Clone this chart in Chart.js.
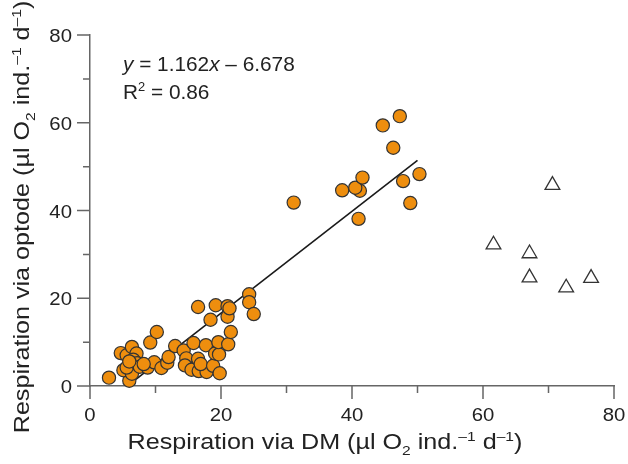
<!DOCTYPE html>
<html>
<head>
<meta charset="utf-8">
<script src="https://cdn.jsdelivr.net/npm/chart.js@4"></script>
<style>
  html, body { margin: 0; background: #fff; }
</style>
</head>
<body>
<canvas id="chart" width="628" height="464"></canvas>
<script>
// Respiration via DM (x) and via optode (y), orange circles
var dmX = [2.9, 6.0, 4.7, 5.6, 6.4, 7.1, 6.6, 5.1, 6.4, 5.6, 7.2, 7.6, 8.8, 9.8, 10.9, 11.8, 12.0, 9.2, 10.2, 13.0, 8.2, 6.0,
           14.3, 15.8, 15.0, 14.7, 14.5, 15.5, 16.5, 16.6, 17.8, 17.7, 16.9, 18.8, 19.1, 19.7, 19.6, 19.8, 21.1, 21.5, 18.4, 21.0,
           16.5, 19.2, 21.0, 21.3, 24.3, 24.3, 25.0,
           31.1, 38.5, 41.2, 40.5, 41.6, 41.0, 44.7, 47.3, 46.3, 47.8, 50.3, 48.9];
var optodeY = [1.9, 1.2, 7.5, 7.0, 8.9, 7.4, 6.0, 3.6, 2.8, 4.2, 5.2, 4.4, 4.2, 5.4, 4.1, 5.3, 6.6, 9.9, 12.3, 9.1, 5.0, 5.6,
               8.1, 9.8, 5.5, 6.3, 4.7, 3.7, 6.2, 3.4, 3.2, 9.3, 5.0, 4.6, 7.4, 7.2, 10.0, 2.9, 9.5, 12.3, 15.1, 15.8,
               18.0, 18.4, 18.2, 17.7, 20.9, 19.1, 16.4,
               41.8, 44.6, 44.5, 45.2, 47.5, 38.1, 59.4, 61.5, 54.3, 46.7, 48.3, 41.7];

// open triangles (excluded from the fit)
var outX = [70.6, 61.6, 67.1, 67.1, 72.7, 76.5];
var outY = [45.8, 32.2, 30.2, 24.7, 22.4, 24.6];

// regression line end points
var fitX = [7, 50];
var fitY = [1.5, 51.4];

var tickValues = [0, 10, 20, 30, 40, 50, 60, 70, 80];

var FONT = '"Liberation Sans", Arial, Helvetica, sans-serif';
var AXIS = '#666';
var TEXT = '#222';

function toPoints(xs, ys) {
    return xs.map(function(x, i) { return { x: x, y: ys[i] }; });
}

// text pieces with italic / sub / sup parts, stretched a little sideways
function drawText(ctx, segs, x, y, size, align, stretch) {
    function setFont(s) {
        var sz = (s.k === 'sub' || s.k === 'sup') ? size * 0.62 : size;
        ctx.font = (s.k === 'i' ? 'italic ' : '') + sz + 'px ' + FONT;
    }
    var total = 0;
    segs.forEach(function(s) { setFont(s); total += ctx.measureText(s.t).width; });
    var start = align === 'center' ? -total / 2 : (align === 'right' ? -total : 0);
    ctx.save();
    ctx.translate(x, y);
    ctx.scale(stretch, 1);
    ctx.textAlign = 'left';
    ctx.textBaseline = 'alphabetic';
    var cx = start;
    segs.forEach(function(s) {
        setFont(s);
        var dy = s.k === 'sub' ? size * 0.28 : (s.k === 'sup' ? -size * 0.38 : 0);
        ctx.fillText(s.t, cx, dy);
        cx += ctx.measureText(s.t).width;
    });
    ctx.restore();
}

var extras = {
    id: 'extras',
    afterDraw: function(chart) {
        var ctx = chart.ctx;
        var xs = chart.scales.x, ys = chart.scales.y;
        ctx.save();
        // tick marks, long at labelled values
        ctx.strokeStyle = AXIS;
        ctx.lineWidth = 1.5;
        tickValues.forEach(function(v) {
            var len = v % 20 === 0 ? 13 : 7;
            var px = xs.getPixelForValue(v);
            var py = ys.getPixelForValue(v);
            ctx.beginPath();
            ctx.moveTo(px, xs.top); ctx.lineTo(px, xs.top + len);
            ctx.moveTo(ys.right, py); ctx.lineTo(ys.right - len, py);
            ctx.stroke();
        });

        ctx.fillStyle = TEXT;
        // tick labels
        xs.ticks.forEach(function(t) {
            if (t.value % 20 !== 0) return;
            drawText(ctx, [{ t: String(t.value) }], xs.getPixelForValue(t.value), 421, 18.5, 'center', 1.1);
        });
        ys.ticks.forEach(function(t) {
            if (t.value % 20 !== 0) return;
            drawText(ctx, [{ t: String(t.value) }], 72, ys.getPixelForValue(t.value) + 7, 18.5, 'right', 1.1);
        });

        // axis titles
        var unit = [
            { t: ' (µl O' }, { t: '2', k: 'sub' }, { t: ' ind.' }, { t: '–1', k: 'sup' },
            { t: ' d' }, { t: '–1', k: 'sup' }, { t: ')' }
        ];
        drawText(ctx, [{ t: 'Respiration via DM' }].concat(unit), 325, 449, 21.5, 'center', 1.17);
        ctx.save();
        ctx.translate(29, 217);
        ctx.rotate(-Math.PI / 2);
        drawText(ctx, [{ t: 'Respiration via optode' }].concat(unit), 0, 0, 21.5, 'center', 1.17);
        ctx.restore();

        // fit equation
        drawText(ctx, [{ t: 'y', k: 'i' }, { t: ' = 1.162' }, { t: 'x', k: 'i' }, { t: ' – 6.678' }], 123, 71, 20, 'left', 1.04);
        drawText(ctx, [{ t: 'R' }, { t: '2', k: 'sup' }, { t: ' = 0.86' }], 123, 99, 20, 'left', 1.04);
        ctx.restore();
    }
};

var ctx = document.getElementById('chart').getContext('2d');
new Chart(ctx, {
    type: 'scatter',
    data: {
        datasets: [{
            type: 'line',
            data: toPoints(fitX, fitY),
            borderColor: '#1a1a1a',
            borderWidth: 1.6,
            pointRadius: 0,
            fill: false,
            order: 3
        }, {
            data: toPoints(dmX, optodeY),
            backgroundColor: '#EE8E0E',
            borderColor: '#333',
            borderWidth: 1.2,
            pointRadius: 6.6,
            clip: false,
            order: 1
        }, {
            data: toPoints(outX, outY),
            pointStyle: 'triangle',
            backgroundColor: '#fff',
            borderColor: '#333',
            borderWidth: 1.3,
            pointRadius: 8.5,
            clip: false,
            order: 2
        }]
    },
    options: {
        responsive: false,
        animation: false,
        layout: { padding: { top: 35, right: 14, left: 0, bottom: 0 } },
        plugins: { legend: { display: false }, tooltip: { enabled: false } },
        scales: {
            x: {
                type: 'linear', min: 0, max: 80,
                afterFit: function(s) { s.height = 78; },
                border: { display: true, color: AXIS, width: 1.5 },
                grid: { display: false },
                ticks: { display: false, stepSize: 20 }
            },
            y: {
                type: 'linear', min: 0, max: 80,
                afterFit: function(s) { s.width = 90; },
                border: { display: true, color: AXIS, width: 1.5 },
                grid: { display: false },
                ticks: { display: false, stepSize: 20 }
            }
        }
    },
    plugins: [extras]
});
</script>
</body>
</html>
